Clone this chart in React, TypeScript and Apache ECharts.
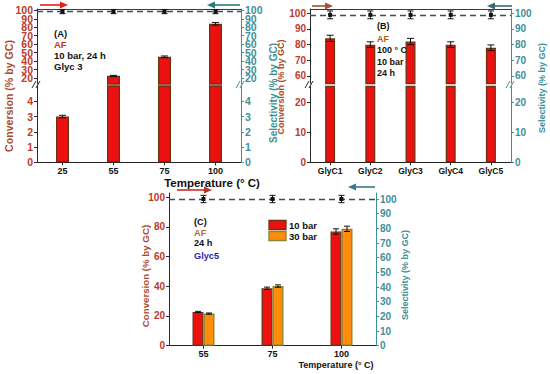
import React, { useEffect, useRef } from "react";
import * as echarts from "echarts";

// ---------- Panel A ----------
const tempsA = ["25", "55", "75", "100"];
const convA = [3.0, 22.5, 45.0, 84.0];
const convErrA = [0.08, 0.6, 1.0, 1.5];
const selA = [98.5, 98.5, 98.5, 98.5];
const selErrA = [2.5, 2.5, 2.5, 2.5];
const ticksAHigh = [20, 30, 40, 50, 60, 70, 80, 90, 100];
const ticksALow = [0, 1, 2, 3, 4];

// ---------- Panel B ----------
const catalystsB = ["GlyC1", "GlyC2", "GlyC3", "GlyC4", "GlyC5"];
const convB = [84, 80, 82, 80, 78];
const convErrB = [2, 1.8, 2, 1.8, 1.8];
const selB = [99, 99, 99, 99, 99];
const selErrB = [2.5, 2.5, 2.5, 2.5, 2.5];
const ticksBHigh = [60, 70, 80, 90, 100];
const ticksBLow = [0, 10, 20];

// ---------- Panel C ----------
const tempsC = ["55", "75", "100"];
const conv10C = [22.7, 38.6, 76.8];
const err10C = [0.4, 0.8, 1.8];
const conv30C = [21.6, 40.1, 78.6];
const err30C = [0.4, 0.8, 1.8];
const selC = [100, 100, 100];
const selErrC = [2.5, 2.5, 2.5];
const ticksCLeft = [0, 20, 40, 60, 80, 100];
const ticksCRight = [0, 10, 20, 30, 40, 50, 60, 70, 80, 90, 100];

const FONT = "'Liberation Sans', Arial, sans-serif";
const RED = "#ec1010";
const RED_EDGE = "#6e3412";
const ORANGE = "#ff8c0a";
const ORANGE_EDGE = "#8c8432";
const LEFT_LABEL = "#c0392b";
const LEFT_TITLE = "#ad4a28";
const TEAL = "#3d8f99";
const DASH = "#34505c";

// axis ranges (layout)
const A_HI = [12.88, 101.54];
const A_LO = [0, 5];
const B_HI = [55.2, 102.74];
const B_LO = [0, 25.27];
const C_L = [0, 102.7];
const C_R = [0, 104.1];

// A's upper labels are packed tightly: split them over two stacked axes
const aEven = ticksAHigh.filter((_, i) => i % 2 === 0);
const aOdd = ticksAHigh.filter((_, i) => i % 2 === 1);

function yAx(
  grid: number,
  rng: number[],
  ticks: number[],
  side: string,
  labelColor: string,
  lineColor: string,
  fontSize = 10,
  labels: number[] = ticks,
  showLine = true
) {
  return {
    type: "value",
    gridIndex: grid,
    position: side,
    min: rng[0],
    max: rng[1],
    axisLine: { show: showLine, onZero: false, lineStyle: { color: lineColor, width: 1 } },
    axisTick: { show: ticks.length > 0, inside: false, length: 3, customValues: ticks, lineStyle: { color: lineColor } },
    axisLabel: {
      customValues: labels,
      color: labelColor,
      fontSize,
      lineHeight: 8,
      fontWeight: "bold",
      fontFamily: FONT,
      margin: 4,
      showMinLabel: true,
      showMaxLabel: true,
      hideOverlap: false,
    },
    splitLine: { show: false },
  };
}

function xAx(grid: number, data: string[], opts: any) {
  return {
    type: "category",
    gridIndex: grid,
    data,
    axisLine: { show: true, onZero: false, lineStyle: { color: "#222", width: 1 } },
    axisTick: { show: true, alignWithLabel: true, length: 3, lineStyle: { color: "#222" } },
    axisLabel: { color: "#111", fontSize: 9, fontWeight: "bold", fontFamily: FONT, margin: 4 },
    splitLine: { show: false },
    ...opts,
  };
}

function errRender(offset: number, capHalf: number, color: string, marker: boolean, lo: number, hi: number) {
  return (params: any, api: any) => {
    const i = api.value(0);
    const v = api.value(1);
    const e = api.value(2);
    if (v < lo || v > hi) return null;
    const c = api.coord([i, v]);
    const x = c[0] + offset;
    const yTop = api.coord([i, Math.min(v + e, hi)])[1];
    const yBot = api.coord([i, Math.max(v - e, lo)])[1];
    const st = { stroke: color, lineWidth: 1 };
    const children: any[] = [
      { type: "line", shape: { x1: x, y1: yTop, x2: x, y2: yBot }, style: st },
      { type: "line", shape: { x1: x - capHalf, y1: yTop, x2: x + capHalf, y2: yTop }, style: st },
      { type: "line", shape: { x1: x - capHalf, y1: yBot, x2: x + capHalf, y2: yBot }, style: st },
    ];
    if (marker) {
      children.push({ type: "rect", shape: { x: x - 2, y: c[1] - 2, width: 4, height: 4 }, style: { fill: color } });
    }
    return { type: "group", children };
  };
}

function barSeries(xi: number, yi: number, data: number[], width: number, fill: string, edge: string, name?: string) {
  return {
    type: "bar",
    name,
    xAxisIndex: xi,
    yAxisIndex: yi,
    data,
    barWidth: width,
    barGap: "0%",
    clip: true,
    itemStyle: { color: fill, borderColor: edge, borderWidth: 1.3 },
    z: 2,
  };
}

function errSeries(xi: number, yi: number, vals: number[], errs: number[], offset: number, capHalf: number, marker: boolean, rng: number[]) {
  return {
    type: "custom",
    xAxisIndex: xi,
    yAxisIndex: yi,
    data: vals.map((v, i) => [i, v, errs[i]]),
    encode: { x: 0, y: 1 },
    renderItem: errRender(offset, capHalf, "#111", marker, rng[0], rng[1]),
    clip: false,
    z: 5,
  };
}

function selLine(xi: number, yi: number, vals: number[]) {
  return {
    type: "line",
    xAxisIndex: xi,
    yAxisIndex: yi,
    data: vals,
    symbol: "none",
    lineStyle: { opacity: 0 },
    markLine: {
      silent: true,
      symbol: ["none", "none"],
      label: { show: false },
      lineStyle: { type: [6, 4], color: DASH, width: 1.4 },
      data: [{ type: "average" }],
    },
    z: 4,
  };
}

function text(x: number, y: number, t: string, fill: string, size = 11, extra: any = {}) {
  return {
    type: "text",
    x,
    y,
    ...extra,
    style: {
      text: t,
      fill,
      font: `bold ${size}px ${FONT}`,
      align: extra.align || "left",
      verticalAlign: "middle",
      textAlign: extra.align || "left",
      textVerticalAlign: "middle",
    },
    z: 10,
  };
}

function vtitle(x: number, y: number, t: string, fill: string, size = 10.5) {
  return {
    type: "text",
    x,
    y,
    rotation: Math.PI / 2,
    style: {
      text: t,
      fill,
      font: `bold ${size}px ${FONT}`,
      align: "center",
      verticalAlign: "middle",
      textAlign: "center",
      textVerticalAlign: "middle",
    },
    z: 10,
  };
}

function arrow(x1: number, x2: number, y: number, color: string) {
  const d = Math.sign(x2 - x1);
  return {
    type: "group",
    children: [
      { type: "line", shape: { x1, y1: y, x2: x2 - d * 6, y2: y }, style: { stroke: color, lineWidth: 1.6 } },
      { type: "polygon", shape: { points: [[x2, y], [x2 - d * 8, y - 3.5], [x2 - d * 8, y + 3.5]] }, style: { fill: color } },
    ],
    z: 10,
  };
}

function breakMark(x: number, y: number, color: string) {
  return {
    type: "group",
    children: [
      { type: "line", shape: { x1: x - 5, y1: y + 3, x2: x - 1, y2: y - 4 }, style: { stroke: color, lineWidth: 1 } },
      { type: "line", shape: { x1: x - 1, y1: y + 3, x2: x + 3, y2: y - 4 }, style: { stroke: color, lineWidth: 1 } },
    ],
    z: 10,
  };
}

function legendItem(x: number, y: number, fill: string, edge: string, label: string) {
  return {
    type: "group",
    children: [
      { type: "rect", shape: { x, y: y - 4.5, width: 17, height: 9 }, style: { fill, stroke: edge, lineWidth: 1.3 } },
      text(x + 20, y, label, "#111", 9.5),
    ],
    z: 10,
  };
}

export default function App() {
  const ref = useRef<HTMLDivElement>(null);
  useEffect(() => {
    if (!ref.current) return;
    const chart = echarts.init(ref.current, undefined, { renderer: "svg" });
    const option: any = {
      animation: false,
      backgroundColor: "#ffffff",
      grid: [
        { left: 37, top: 9, width: 204, height: 75 },
        { left: 37, top: 86, width: 204, height: 76.3 },
        { left: 310, top: 9, width: 201, height: 74.5 },
        { left: 310, top: 86.5, width: 201, height: 75.8 },
        { left: 169, top: 193, width: 207, height: 152.7 },
      ],
      xAxis: [
        xAx(0, tempsA, { position: "top", axisTick: { show: false }, axisLabel: { show: false }, axisLine: { show: true, onZero: false, lineStyle: { color: "#3a3a3a" } } }),
        xAx(1, tempsA, { position: "bottom" }),
        xAx(2, catalystsB, { position: "top", axisTick: { show: false }, axisLabel: { show: false }, axisLine: { show: true, onZero: false, lineStyle: { color: "#3a3a3a" } } }),
        xAx(3, catalystsB, { position: "bottom", axisLabel: { color: "#111", fontSize: 8.5, fontWeight: "bold", fontFamily: FONT, margin: 4 } }),
        xAx(4, tempsC, { position: "bottom" }),
      ],
      yAxis: [
        yAx(0, A_HI, ticksAHigh, "left", LEFT_LABEL, "#2a2a2a", 10.5, aEven),
        yAx(0, A_HI, ticksAHigh, "right", TEAL, TEAL, 10.5, aEven),
        yAx(1, A_LO, ticksALow, "left", LEFT_LABEL, "#2a2a2a", 10.5),
        yAx(1, A_LO, ticksALow, "right", TEAL, TEAL, 10.5),
        yAx(2, B_HI, ticksBHigh, "left", LEFT_LABEL, "#2a2a2a"),
        yAx(2, B_HI, ticksBHigh, "right", TEAL, TEAL),
        yAx(3, B_LO, ticksBLow, "left", LEFT_LABEL, "#2a2a2a"),
        yAx(3, B_LO, ticksBLow, "right", TEAL, TEAL),
        yAx(4, C_L, ticksCLeft, "left", LEFT_LABEL, "#2a2a2a"),
        yAx(4, C_R, ticksCRight, "right", TEAL, TEAL),
        // overlay axes carrying A's in-between labels
        yAx(0, A_HI, [], "left", LEFT_LABEL, "#2a2a2a", 10.5, aOdd, false),
        yAx(0, A_HI, [], "right", TEAL, TEAL, 10.5, aOdd, false),
      ],
      series: [
        // Panel A
        barSeries(0, 0, convA, 13, RED, RED_EDGE),
        barSeries(1, 2, convA, 13, RED, RED_EDGE),
        errSeries(0, 0, convA, convErrA, 0, 3.5, false, A_HI),
        errSeries(1, 2, convA, convErrA, 0, 3.5, false, A_LO),
        selLine(0, 1, selA),
        errSeries(0, 1, selA, selErrA, 0, 3, true, [0, 200]),
        // Panel B
        barSeries(2, 4, convB, 10, RED, RED_EDGE),
        barSeries(3, 6, convB, 10, RED, RED_EDGE),
        errSeries(2, 4, convB, convErrB, 0, 3.5, false, B_HI),
        selLine(2, 5, selB),
        errSeries(2, 5, selB, selErrB, 0, 3, true, [0, 200]),
        // Panel C
        barSeries(4, 8, conv10C, 11, RED, RED_EDGE, "10 bar"),
        barSeries(4, 8, conv30C, 11, ORANGE, ORANGE_EDGE, "30 bar"),
        errSeries(4, 8, conv10C, err10C, -5.5, 3, false, C_L),
        errSeries(4, 8, conv30C, err30C, 5.5, 3, false, C_L),
        selLine(4, 9, selC),
        errSeries(4, 9, selC, selErrC, 0, 3, true, [0, 200]),
      ],
      graphic: [
        // arrows
        arrow(40, 68, 5, "#e8201a"),
        arrow(240, 207, 5, "#2a7a7a"),
        arrow(312, 333, 6, "#a0522d"),
        arrow(512, 487, 6, "#3a6a7a"),
        arrow(177, 212, 190, "#c0302a"),
        arrow(375, 348, 187, "#3a7a8a"),
        // break marks
        breakMark(37, 85, "#2a2a2a"),
        breakMark(241, 85, TEAL),
        breakMark(310, 85, "#2a2a2a"),
        breakMark(511, 85, TEAL),
        // axis titles
        vtitle(9, 96, "Conversion (% by GC)", LEFT_TITLE, 10.6),
        vtitle(273, 93, "Selectivity (% by GC)", TEAL, 10),
        vtitle(281, 87, "Conversion (% by GC)", LEFT_TITLE, 9),
        vtitle(542, 88, "Selectivity (% by GC)", TEAL, 9),
        vtitle(145, 276, "Conversion (% by GC)", LEFT_TITLE, 9.7),
        vtitle(405, 275, "Selectivity (% by GC)", TEAL, 9),
        text(212, 183, "Temperature (° C)", "#111", 11.5, { align: "center" }),
        text(336, 365, "Temperature (° C)", "#111", 9, { align: "center" }),
        // annotations A
        text(54, 33.3, "(A)", "#111", 9.5),
        text(54, 44.5, "AF", "#c03a1a", 9.5),
        text(54, 55.5, "10 bar, 24 h", "#111", 9.5),
        text(54, 66.8, "Glyc 3", "#111", 9.5),
        // annotations B
        text(377, 26, "(B)", "#111", 9),
        text(377, 38.5, "AF", "#b06020", 9),
        text(377, 50.3, "100 ° C", "#111", 9),
        text(377, 61.7, "10 bar", "#111", 9),
        text(377, 72.7, "24 h", "#111", 9),
        // annotations C
        text(194, 222, "(C)", "#111", 9.2),
        text(194, 232.7, "AF", "#b86a28", 9.2),
        text(194, 243.3, "24 h", "#111", 9.2),
        text(194, 255.7, "Glyc5", "#2a2aa8", 9.2),
        // legend C
        legendItem(269, 225, RED, RED_EDGE, "10 bar"),
        legendItem(269, 236, ORANGE, ORANGE_EDGE, "30 bar"),
      ],
    };
    chart.setOption(option);
    return () => chart.dispose();
  }, []);
  return <div ref={ref} style={{ position: "fixed", left: 0, top: 0, width: 550, height: 374 }} />;
}
